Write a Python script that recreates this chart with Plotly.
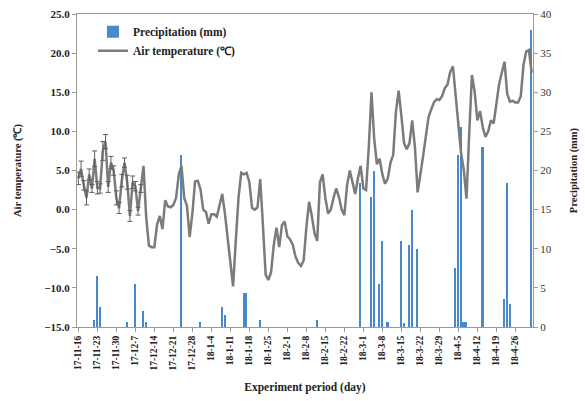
import pandas as pd
import plotly.graph_objects as go

# ---- data ----
start_date = "2017-11-16"
n_days = 168
dates = pd.date_range(start_date, periods=n_days)

air_temperature = [
    4.0, 5.2, 3.1, 1.5, 4.5, 2.7, 6.5, 2.8, 2.7, 7.5,
    8.7, 2.9, 6.0, 5.0, 1.5, 0.2, 3.7, 6.0, 3.5, -0.8,
    3.5, 3.0, -0.2, 2.7, 5.6, -1.0, -4.6, -4.8, -4.8, -1.9,
    -0.8, -2.5, 1.2, 0.4, 0.3, 0.6, 1.5, 4.5, 5.6, 1.5,
    0.5, -3.5, -0.5, 3.6, 3.7, 2.6, 0.0, -0.3, -1.8, -0.6,
    -0.6, -0.9, 0.5, 2.0, -0.5, -3.5, -7.0, -9.8, -4.0, 1.5,
    4.7, 4.5, 4.7, 3.5, 0.2, 0.0, 0.3, 3.9, -2.0, -8.3,
    -9.0, -8.0, -4.5, -2.3, -4.8, -2.0, -1.5, -3.4, -3.8, -4.5,
    -6.0, -6.8, -7.2, -6.5, -2.3, 1.0, -0.8, -3.0, -4.0, 3.5,
    4.5, 1.5, -0.5, 0.0, 1.5, 2.7, 1.6, 0.0, -0.7, 3.1,
    5.0, 3.4, 2.0, 4.0, 5.6, 2.7, 2.5, 8.0, 15.0, 9.0,
    5.8, 6.5, 4.5, 3.3, 4.0, 6.0, 7.0, 12.5, 15.2, 12.0,
    8.5, 7.7, 8.5, 11.4, 8.0, 2.2, 4.3, 6.8, 9.3, 11.8,
    12.8, 13.7, 14.1, 14.0, 14.5, 15.5, 16.0, 17.6, 18.3, 14.5,
    10.0, 7.2, 5.1, 1.4, 9.7, 17.2, 15.1, 11.4, 12.6, 10.5,
    9.3, 10.0, 11.4, 11.0, 13.5, 16.0, 17.5, 18.9, 14.8, 13.8,
    13.9, 13.7, 13.7, 14.5, 18.5, 20.2, 20.4, 17.5,
]

temperature_error = [
    0.8, 1.0, 0.6, 0.9, 0.7, 0.5, 1.0, 0.8, 0.6, 1.2,
    0.9, 0.7, 0.8, 0.6, 0.9, 0.7, 0.8, 0.6, 0.9, 0.7,
    0.8, 0.6, 0.5, 0.5,
]

precip_dates = [
    "2017-11-22", "2017-11-23", "2017-11-24", "2017-12-04", "2017-12-07",
    "2017-12-10", "2017-12-11", "2017-12-24", "2017-12-31", "2018-01-08",
    "2018-01-09", "2018-01-16", "2018-01-17", "2018-01-22", "2018-02-12",
    "2018-02-28", "2018-03-04", "2018-03-05", "2018-03-07", "2018-03-08",
    "2018-03-10", "2018-03-15", "2018-03-16", "2018-03-18", "2018-03-19",
    "2018-03-21", "2018-04-04", "2018-04-05", "2018-04-06", "2018-04-07",
    "2018-04-08", "2018-04-14", "2018-04-22", "2018-04-23", "2018-04-24",
    "2018-05-02",
]
precip_values = [
    0.9, 6.5, 2.6, 0.7, 5.5,
    2.1, 0.7, 22.0, 0.6, 2.6,
    1.5, 4.4, 4.4, 0.9, 0.9,
    18.4, 16.6, 19.9, 5.5, 11.0,
    0.6, 11.0, 0.5, 10.5, 15.0,
    10.0, 7.6, 22.0, 25.5, 0.6,
    0.6, 23.0, 3.6, 18.4, 3.0,
    38.0,
]

tick_dates = [
    "2017-11-16", "2017-11-23", "2017-11-30", "2017-12-07", "2017-12-14",
    "2017-12-21", "2017-12-28", "2018-01-04", "2018-01-11", "2018-01-18",
    "2018-01-25", "2018-02-01", "2018-02-08", "2018-02-15", "2018-02-22",
    "2018-03-01", "2018-03-08", "2018-03-15", "2018-03-22", "2018-03-29",
    "2018-04-05", "2018-04-12", "2018-04-19", "2018-04-26",
]
tick_labels = [
    "17-11-16", "17-11-23", "17-11-30", "17-12-7", "17-12-14",
    "17-12-21", "17-12-28", "18-1-4", "18-1-11", "18-1-18",
    "18-1-25", "18-2-1", "18-2-8", "18-2-15", "18-2-22",
    "18-3-1", "18-3-8", "18-3-15", "18-3-22", "18-3-29",
    "18-4-5", "18-4-12", "18-4-19", "18-4-26",
]

temp_ticks = [-15, -10, -5, 0, 5, 10, 15, 20, 25]
precip_ticks = [0, 5, 10, 15, 20, 25, 30, 35, 40]

# ---- styling ----
SERIF = "Liberation Serif"
BAR_COLOR = "#4a88cc"
LINE_COLOR = "#7b7b7b"
AXIS_COLOR = "#9a9a9a"
TEXT = "#222222"
DAY_MS = 86400000
n_err = len(temperature_error)

fig = go.Figure()
fig.add_trace(go.Bar(
    x=pd.to_datetime(precip_dates), y=precip_values,
    width=[0.6 * DAY_MS] * len(precip_values),
    marker=dict(color=BAR_COLOR, line=dict(width=0)),
    name="Precipitation (mm)", yaxis="y",
))
fig.add_trace(go.Scatter(
    x=dates, y=air_temperature, mode="lines",
    line=dict(color=LINE_COLOR, width=2.5),
    name="Air temperature (\u2103)", yaxis="y2",
))
fig.add_trace(go.Scatter(
    x=dates[:n_err], y=air_temperature[:n_err], mode="markers",
    marker=dict(size=1, color=LINE_COLOR, opacity=0),
    error_y=dict(type="data", array=temperature_error, visible=True,
                 color="#5f5f5f", thickness=1, width=2.5),
    showlegend=False, hoverinfo="skip", yaxis="y2",
))

fig.update_layout(
    width=585, height=401,
    margin=dict(l=77, r=51, t=8, b=74),
    paper_bgcolor="white", plot_bgcolor="white",
    font=dict(family=SERIF, size=10, color=TEXT),
    showlegend=True,
    legend=dict(
        x=0.035, y=0.99, xanchor="left", yanchor="top",
        bgcolor="rgba(0,0,0,0)", borderwidth=0,
        font=dict(family=SERIF, size=11.5, weight="bold", color=TEXT),
        tracegroupgap=0, itemwidth=30,
    ),
    bargap=0,
    xaxis=dict(
        type="date",
        range=["2017-11-15 12:00", "2018-05-02 12:00"],
        tickmode="array", tickvals=pd.to_datetime(tick_dates), ticktext=tick_labels,
        tickangle=-90, ticks="outside", ticklen=4, tickcolor=AXIS_COLOR,
        tickfont=dict(family=SERIF, size=9.5, weight="bold", color=TEXT),
        showline=True, linecolor=AXIS_COLOR, linewidth=1, mirror=True,
        showgrid=False, zeroline=False,
        title=dict(text="Experiment period (day)", standoff=13,
                   font=dict(family=SERIF, size=11.5, weight="bold", color=TEXT)),
    ),
    yaxis=dict(
        side="right", range=[0, 40], tickmode="array", tickvals=precip_ticks,
        ticks="outside", ticklen=4, tickcolor=AXIS_COLOR,
        tickfont=dict(family=SERIF, size=11, color="#333333"),
        showline=True, linecolor=AXIS_COLOR, linewidth=1,
        showgrid=False, zeroline=False,
        title=dict(text="Precipitation (mm)", standoff=18,
                   font=dict(family=SERIF, size=10.5, weight="bold", color=TEXT)),
    ),
    yaxis2=dict(
        overlaying="y", side="left", range=[-15, 25], tickmode="array",
        tickvals=temp_ticks, tickformat=".1f",
        ticks="outside", ticklen=4, tickcolor=AXIS_COLOR,
        tickfont=dict(family=SERIF, size=11, weight="bold", color=TEXT),
        showline=True, linecolor=AXIS_COLOR, linewidth=1,
        showgrid=False, zeroline=False,
        title=dict(text="Air temperature (\u2103)", standoff=20,
                   font=dict(family=SERIF, size=10.5, weight="bold", color=TEXT)),
    ),
)

fig.write_html("out.html")
